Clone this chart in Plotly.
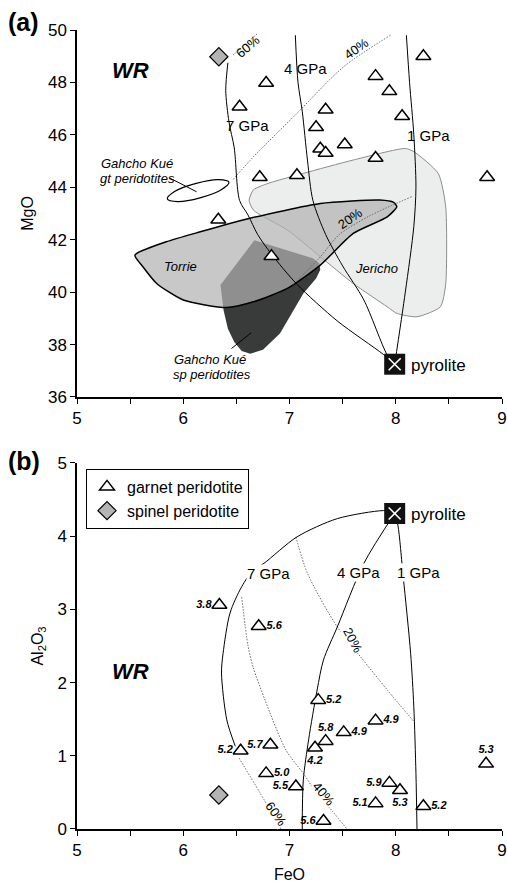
import plotly.graph_objects as go

FONT = "Liberation Sans, Arial, Helvetica, sans-serif"

# ---------------- panel (a): MgO vs FeO ----------------
gt_a_feo = [8.26, 7.81, 6.78, 7.94, 6.53, 7.34, 8.06, 7.25, 7.52, 7.29, 7.34, 7.81, 6.72, 7.07, 8.86, 6.33, 6.83]
gt_a_mgo = [49.00, 48.24, 47.98, 47.66, 47.07, 46.96, 46.71, 46.29, 45.63, 45.47, 45.31, 45.12, 44.38, 44.46, 44.38, 42.76, 41.37]
sp_a_feo = [6.335]
sp_a_mgo = [48.98]
pyr_a_feo = [7.99]
pyr_a_mgo = [37.25]

# melting model curves (a)
gp1_a_x = [7.99, 8.09, 8.17, 8.19, 8.17, 8.13, 8.10]
gp1_a_y = [37.25, 40.0, 42.5, 44.0, 46.0, 48.0, 49.8]
gp4_a_x = [7.055, 7.08, 7.12, 7.17, 7.22, 7.34, 7.50, 7.70, 7.92, 7.99]
gp4_a_y = [49.8, 48.0, 46.9, 45.0, 43.5, 42.2, 41.0, 39.7, 37.6, 37.25]
gp7_a_x = [6.42, 6.40, 6.43, 6.48, 6.53, 6.61, 6.70, 6.83, 7.07, 7.45, 7.885, 7.99]
gp7_a_y = [48.75, 47.7, 46.5, 45.5, 43.5, 42.94, 42.2, 41.45, 40.3, 38.9, 37.62, 37.25]
p60_a_x = [6.47, 6.70]
p60_a_y = [49.05, 49.87]
p40_a_x = [6.47, 6.66, 7.07, 7.51, 7.95]
p40_a_y = [44.3, 45.16, 46.82, 48.6, 49.8]
p20_a_x = [8.15, 7.75, 7.47, 7.28, 7.03]
p20_a_y = [43.64, 42.9, 42.2, 41.3, 40.27]

# fields (a)
jer_x = [6.66, 6.80, 7.13, 7.60, 8.09, 8.17, 8.40, 8.47, 8.47, 8.42, 8.20, 8.01, 7.92, 7.60, 7.29, 6.98, 6.66, 6.62, 6.66]
jer_y = [43.9, 44.15, 44.53, 45.04, 45.48, 45.36, 44.53, 43.26, 40.3, 39.44, 39.06, 39.19, 39.44, 40.33, 41.35, 42.37, 43.13, 43.5, 43.9]
tor_x = [5.545, 5.84, 6.16, 6.61, 7.29, 7.85, 7.98, 8.01, 7.92, 7.60, 7.29, 6.98, 6.66, 6.41, 6.00, 5.75, 5.62, 5.545]
tor_y = [41.41, 41.92, 42.3, 42.8, 43.38, 43.51, 43.42, 43.26, 42.87, 42.24, 41.03, 40.14, 39.63, 39.41, 39.7, 40.33, 40.97, 41.41]
spf_x = [6.35, 6.67, 7.22, 7.28, 7.29, 7.25, 7.13, 6.91, 6.75, 6.63, 6.55, 6.48, 6.42, 6.38, 6.35]
spf_y = [40.27, 41.98, 41.29, 41.10, 40.85, 40.52, 39.95, 38.42, 37.8, 37.65, 37.75, 38.1, 38.6, 39.3, 40.27]
gte_x = [6.430, 6.358, 6.158, 5.947, 5.850, 5.922, 6.122, 6.333, 6.430]
gte_y = [44.196, 43.905, 43.598, 43.454, 43.557, 43.847, 44.151, 44.294, 44.196]

# ---------------- panel (b): Al2O3 vs FeO ----------------
gt_b_feo = [6.34, 6.71, 7.27, 7.81, 7.51, 7.34, 7.24, 6.82, 6.78, 7.06, 7.94, 8.04, 7.81, 8.26, 8.85, 7.32, 6.54]
gt_b_al = [3.06, 2.77, 1.76, 1.48, 1.32, 1.20, 1.11, 1.15, 0.76, 0.58, 0.63, 0.53, 0.35, 0.31, 0.89, 0.11, 1.07]
gt_b_p = ["3.8", "5.6", "5.2", "4.9", "4.9", "5.8", "4.2", "5.7", "5.0", "5.5", "5.9", "5.3", "5.1", "5.2", "5.3", "5.6", "5.2"]
gt_b_pos = ["middle left", "middle right", "middle right", "middle right", "middle right", "top center",
            "bottom center", "middle left", "middle right", "middle left", "middle left", "bottom center",
            "middle left", "middle right", "top center", "middle left", "middle left"]
sp_b_feo = [6.335]
sp_b_al = [0.465]
pyr_b_feo = [7.99]
pyr_b_al = [4.31]

gp7_b_x = [7.99, 7.885, 7.45, 7.07, 6.76, 6.66, 6.55, 6.44, 6.375, 6.36, 6.41, 6.49]
gp7_b_y = [4.33, 4.35, 4.24, 3.99, 3.63, 3.54, 3.31, 2.95, 2.40, 2.13, 1.49, 1.13]
gp4_b_x = [7.99, 7.70, 7.45, 7.32, 7.26, 7.18, 7.13, 7.12]
gp4_b_y = [4.31, 3.63, 2.76, 2.31, 1.90, 1.22, 0.67, 0.0]
gp1_b_x = [7.99, 8.02, 8.07, 8.14, 8.17, 8.19, 8.20]
gp1_b_y = [4.31, 4.15, 3.45, 2.40, 1.67, 0.76, 0.0]
p20_b_x = [7.06, 7.17, 7.45, 7.67, 7.92, 8.17]
p20_b_y = [3.99, 3.49, 2.76, 2.35, 1.90, 1.47]
p40_b_x = [6.55, 6.61, 6.66, 6.77, 6.97, 7.13, 7.25, 7.40, 7.54]
p40_b_y = [3.17, 2.5, 2.2, 1.76, 1.07, 0.76, 0.5, 0.25, 0.0]
p60_b_x = [6.525, 6.72, 6.92]
p60_b_y = [0.97, 0.50, 0.0]

fig = go.Figure()
DOT = "1.5px,1.5px"

def line(x, y, xa, ya, color="black", width=1, dash="solid", shape="spline"):
    fig.add_trace(go.Scatter(x=x, y=y, xaxis=xa, yaxis=ya, mode="lines", showlegend=False,
                             hoverinfo="skip",
                             line=dict(color=color, width=width, dash=dash, shape=shape, smoothing=0.8)))

# fields
fig.add_trace(go.Scatter(x=jer_x, y=jer_y, xaxis="x", yaxis="y", mode="lines", fill="toself",
                         fillcolor="#eceeed", line=dict(color="#8c8c8c", width=1, shape="spline", smoothing=0.6),
                         showlegend=False, hoverinfo="skip"))
fig.add_trace(go.Scatter(x=spf_x, y=spf_y, xaxis="x", yaxis="y", mode="lines", fill="toself",
                         fillcolor="#393b3a", line=dict(width=0, color="#393b3a"),
                         showlegend=False, hoverinfo="skip"))
fig.add_trace(go.Scatter(x=tor_x, y=tor_y, xaxis="x", yaxis="y", mode="lines", fill="toself",
                         fillcolor="rgba(178,178,178,0.71)",
                         line=dict(color="black", width=1.5, shape="spline", smoothing=0.6),
                         showlegend=False, hoverinfo="skip"))
fig.add_trace(go.Scatter(x=gte_x, y=gte_y, xaxis="x", yaxis="y", mode="lines", fill="toself",
                         fillcolor="white", line=dict(color="black", width=1.2, shape="spline", smoothing=1.2),
                         showlegend=False, hoverinfo="skip"))

# curves (a)
for xs, ys in [(p60_a_x, p60_a_y), (p40_a_x, p40_a_y), (p20_a_x, p20_a_y)]:
    line(xs, ys, "x", "y", color="#666666", width=1, dash=DOT)
for xs, ys in [(gp1_a_x, gp1_a_y), (gp4_a_x, gp4_a_y), (gp7_a_x, gp7_a_y)]:
    line(xs, ys, "x", "y", color="black", width=1)

# curves (b)
for xs, ys in [(p60_b_x, p60_b_y), (p40_b_x, p40_b_y), (p20_b_x, p20_b_y)]:
    line(xs, ys, "x2", "y2", color="#666666", width=1, dash=DOT)
for xs, ys in [(gp1_b_x, gp1_b_y), (gp4_b_x, gp4_b_y), (gp7_b_x, gp7_b_y)]:
    line(xs, ys, "x2", "y2", color="black", width=1)

tri = dict(symbol="triangle-up", size=13, color="white", line=dict(color="black", width=1.5))
dia = dict(symbol="diamond", size=14, color="#b4b4b4", line=dict(color="black", width=1.2))

fig.add_trace(go.Scatter(x=gt_a_feo, y=gt_a_mgo, xaxis="x", yaxis="y", mode="markers",
                         marker=tri, showlegend=False))
fig.add_trace(go.Scatter(x=sp_a_feo, y=sp_a_mgo, xaxis="x", yaxis="y", mode="markers",
                         marker=dia, showlegend=False))
fig.add_trace(go.Scatter(x=gt_b_feo, y=gt_b_al, xaxis="x2", yaxis="y2", mode="markers",
                         marker=tri, name="garnet peridotite"))
fig.add_trace(go.Scatter(x=sp_b_feo, y=sp_b_al, xaxis="x2", yaxis="y2", mode="markers",
                         marker=dia, name="spinel peridotite"))
fig.add_trace(go.Scatter(x=gt_b_feo, y=gt_b_al, xaxis="x2", yaxis="y2", mode="markers+text",
                         marker=dict(symbol="triangle-up", size=11, color="rgba(0,0,0,0)",
                                     line=dict(width=0, color="rgba(0,0,0,0)")),
                         text=gt_b_p, textposition=gt_b_pos,
                         textfont=dict(family=FONT, size=11, color="black", weight="bold", style="italic"),
                         showlegend=False, hoverinfo="skip"))

for xa, ya, px, py in [("x", "y", pyr_a_feo, pyr_a_mgo), ("x2", "y2", pyr_b_feo, pyr_b_al)]:
    fig.add_trace(go.Scatter(x=px, y=py, xaxis=xa, yaxis=ya, mode="markers", showlegend=False,
                             marker=dict(symbol="square", size=21, color="#111111",
                                         line=dict(color="#111111", width=0))))
    fig.add_trace(go.Scatter(x=px, y=py, xaxis=xa, yaxis=ya, mode="markers", showlegend=False,
                             marker=dict(symbol="x-thin-open", size=12, color="white",
                                         line=dict(color="white", width=1.6))))

ann = []
def txt(x, y, s, xr="x", yr="y", size=15, angle=0, italic=False, bold=False, xanchor="center", bg=None):
    d = dict(x=x, y=y, xref=xr, yref=yr, text=s, showarrow=False, textangle=angle, xanchor=xanchor,
             yanchor="middle",
             font=dict(family=FONT, size=size, color="black",
                       style="italic" if italic else "normal", weight="bold" if bold else "normal"))
    if bg:
        d["bgcolor"] = bg
        d["borderpad"] = 0
    ann.append(d)

# panel labels
txt(-0.168, 1.010, "(a)", "paper", "paper", size=25, bold=True, xanchor="left")
txt(-0.168, 0.4606, "(b)", "paper", "paper", size=25, bold=True, xanchor="left")
# panel (a) texts
txt(5.50, 48.47, "WR", size=22, bold=True, italic=True)
txt(6.607, 46.37, "7 GPa")
txt(7.15, 48.54, "4 GPa")
txt(8.31, 45.99, "1 GPa")
txt(6.61, 49.36, "60%", size=13, angle=-40)
txt(7.63, 49.31, "40%", size=13, angle=-35)
txt(7.57, 42.81, "20%", size=13, angle=-35)
txt(5.97, 40.97, "Torrie", size=13, italic=True)
txt(7.82, 40.90, "Jericho", size=13, italic=True)
txt(5.564, 44.90, "Gahcho Kué", size=13, italic=True)
txt(5.573, 44.34, "gt peridotites", size=13, italic=True)
txt(6.25, 37.43, "Gahcho Kué", size=13, italic=True)
txt(6.269, 36.87, "sp peridotites", size=13, italic=True)
txt(8.12, 37.21, "pyrolite", size=17, xanchor="left")
# panel (b) texts
txt(5.50, 2.15, "WR", "x2", "y2", size=22, bold=True, italic=True)
txt(6.80, 3.49, "7 GPa", "x2", "y2", bg="white")
txt(7.65, 3.50, "4 GPa", "x2", "y2", bg="white")
txt(8.21, 3.50, "1 GPa", "x2", "y2", bg="white")
txt(7.60, 2.58, "20%", "x2", "y2", size=13, angle=62, bg="white")
txt(7.32, 0.49, "40%", "x2", "y2", size=13, angle=50, bg="white")
txt(6.87, 0.21, "60%", "x2", "y2", size=13, angle=55, bg="white")
txt(8.12, 4.30, "pyrolite", "x2", "y2", size=17, xanchor="left")

shapes = [
    dict(type="line", xref="x", yref="y", x0=5.874, y0=44.35, x1=6.125, y1=43.83,
         line=dict(color="black", width=1)),
    dict(type="line", xref="x", yref="y", x0=6.454, y0=37.85, x1=6.64, y1=38.45,
         line=dict(color="black", width=1)),
]

axis_common = dict(showline=True, linecolor="black", linewidth=1.5, ticks="outside", ticklen=5,
                   tickwidth=1.2, tickcolor="black", showgrid=False, zeroline=False, automargin=False,
                   tickfont=dict(family=FONT, size=17, color="black"))
xcommon = dict(axis_common, range=[5, 9], dtick=1, tick0=5,
               minor=dict(dtick=0.5, ticks="outside", ticklen=5, tickcolor="black", tickwidth=1.2, showgrid=False))

fig.update_layout(
    width=508, height=883,
    margin=dict(l=77, r=6, t=30, b=54),
    paper_bgcolor="white", plot_bgcolor="white",
    showlegend=True,
    legend=dict(x=0.0212, y=0.4506, xanchor="left", yanchor="top", bgcolor="white",
                bordercolor="black", borderwidth=1, font=dict(family=FONT, size=16, color="black"),
                itemwidth=30, tracegroupgap=0),
    xaxis=dict(xcommon, domain=[0, 1], anchor="y"),
    yaxis=dict(axis_common, domain=[0.5407, 1], range=[36, 50], dtick=2, anchor="x",
               title=dict(text="MgO", font=dict(family=FONT, size=16, color="black"), standoff=10)),
    xaxis2=dict(xcommon, domain=[0, 1], anchor="y2",
                title=dict(text="FeO", font=dict(family=FONT, size=16, color="black"), standoff=13)),
    yaxis2=dict(axis_common, domain=[0, 0.4581], range=[0, 5], dtick=1, anchor="x2",
                title=dict(text="Al<sub>2</sub>O<sub>3</sub>", font=dict(family=FONT, size=16, color="black"),
                           standoff=10)),
    annotations=ann,
    shapes=shapes,
)

fig.write_html("out.html")
